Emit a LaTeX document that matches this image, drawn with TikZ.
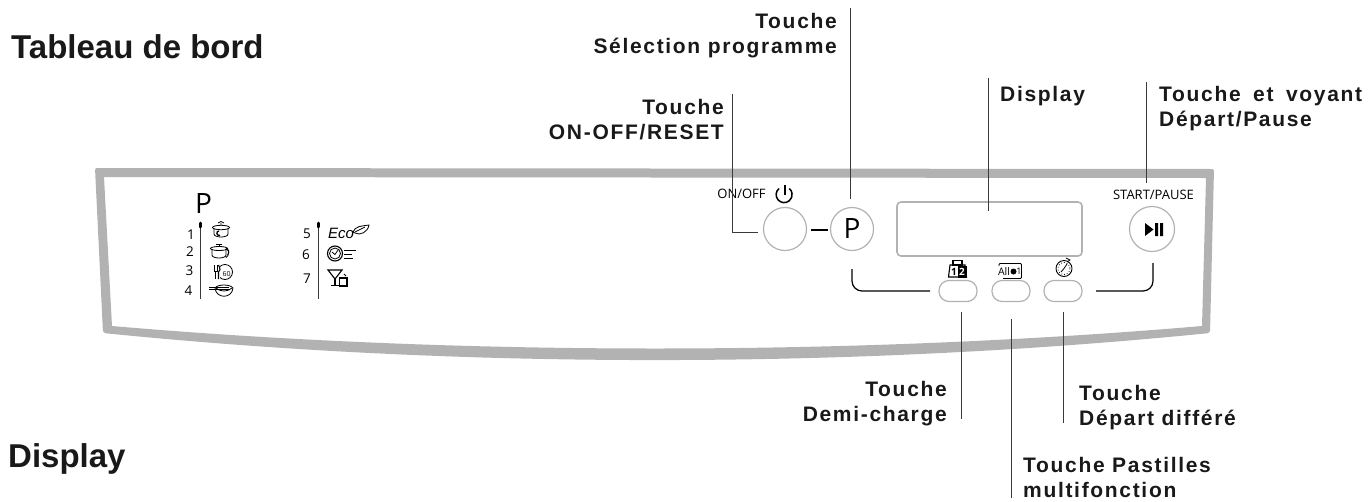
\documentclass[tikz,border=0pt]{standalone}
\usepackage{fontspec}
\setmainfont{Liberation Sans}
\newfontfamily\panelfont{Open Sans}
\newfontfamily\calloutfont[LetterSpace=8]{Liberation Sans Bold}
\usepackage{tikz}
\definecolor{panelgray}{HTML}{B2B2B2}
\definecolor{leadergray}{HTML}{3A3A3A}
\tikzset{
	title/.style={anchor=base west, inner sep=0, font=\bfseries\fontsize{33}{36}\selectfont, text=black!90},
	callout/.style={inner sep=0, font=\calloutfont\fontsize{21}{25.5}\selectfont, text=black!90},
	leader/.style={draw=leadergray, line width=0.9pt},
	button/.style={circle, draw=panelgray, line width=1.2pt, minimum size=43pt, inner sep=0, font=\panelfont\fontsize{28}{30}\selectfont},
	oval/.style={draw=panelgray, line width=1.2pt, rounded corners=10pt, minimum width=38pt, minimum height=21pt, inner sep=0},
	bracket/.style={draw=black, line width=1.2pt, rounded corners=10pt},
	paneltext/.style={inner sep=0, font=\panelfont\fontsize{13}{15}\selectfont},
	number/.style={inner sep=0, font=\panelfont\fontsize{13.5}{15}\selectfont},
	tiny/.style={inner sep=0, font=\panelfont\fontsize{7}{8}\selectfont},
	icon/.style={draw=black, line width=0.8pt},
}
\begin{document}
\begin{tikzpicture}[x=1pt, y=-1pt]
	\useasboundingbox (0,0) rectangle (1368,501);
	% frame of the panel
	\fill [panelgray, even odd rule, rounded corners=2pt] (95,168) -- (1214,169) -- (1210,333) .. controls (850,369) and (460,369) .. (103,333) -- cycle
		[sharp corners] (104,177) -- (1206,178) -- (1202,326) .. controls (850,356) and (460,356) .. (112,326) -- cycle;
	% titles
	\node [title] (tableau) at (11,58) {Tableau de bord};
	\node [title] (displaytitle) at (8,467) {Display};
	% buttons and display
	\node [button] (onoff) at (785,229) {};
	\node [button] (prog) at (852,229) {P};
	\node [button, minimum size=45pt] (start) at (1152,229) {};
	\node [draw=panelgray, line width=1.6pt, rounded corners=4pt, minimum width=185pt, minimum height=54pt, inner sep=0] (screen) at (989.5,229) {};
	\node [oval] (half) at (958,291) {};
	\node [oval] (tabs) at (1011,291) {};
	\node [oval] (delay) at (1063,291) {};
	\coordinate (linka) at (811,230);
	\coordinate (linkb) at (828,230);
	\draw [line width=1.4pt] (linka) -- (linkb);
	\fill (1145,223) -- (1153.5,229.5) -- (1145,236) -- cycle;
	\fill (1155,223) rectangle (1158,236) (1160,223) rectangle (1163,236);
	\node [paneltext] (onofftext) at (741.5,194) {ON/OFF};
	\node [paneltext] (starttext) at (1153.5,194.5) {START/PAUSE};
	% power symbol
	\draw [line width=1.5pt] (779,188.5) arc [start angle=-130, end angle=-410, x radius=8, y radius=8];
	\draw [line width=1.5pt] (785,185) -- (785,195);
	% brackets under the buttons
	\coordinate (brla) at (852,269);
	\coordinate (brlb) at (930,291);
	\coordinate (brra) at (1096,291);
	\coordinate (brrb) at (1153,263);
	\draw [bracket] (brla) |- (brlb);
	\draw [bracket] (brra) -| (brrb);
	% callouts
	\node [callout, align=right, anchor=north east] (selection) at (837,13) {Touche\\Sélection programme};
	\node [callout, align=right, anchor=north east] (resetlabel) at (724,99) {Touche\\ON-OFF/RESET};
	\node [callout, anchor=north west] (displaylabel) at (1000,86) {Display};
	\node [callout, align=left, anchor=north west] (startlabel) at (1159,86) {Touche\hspace{5pt} et\hspace{5pt} voyant\\Départ/Pause};
	\node [callout, align=right, anchor=north east] (halflabel) at (947,381) {Touche\\Demi-charge};
	\node [callout, align=left, anchor=north west] (delaylabel) at (1079,385) {Touche\\Départ différé};
	\node [callout, align=left, anchor=north west] (tabslabel) at (1023,457) {Touche Pastilles\\multifonction};
	% leaders
	\coordinate (selA) at (850,8);
	\coordinate (selB) at (850,199);
	\coordinate (resA) at (732,94);
	\coordinate (resB) at (758,232);
	\coordinate (disA) at (988,78);
	\coordinate (disB) at (988,211);
	\coordinate (staA) at (1146,82);
	\coordinate (staB) at (1146,183);
	\coordinate (halA) at (961,312);
	\coordinate (halB) at (961,419);
	\coordinate (tabA) at (1011,319);
	\coordinate (tabB) at (1011,498);
	\coordinate (delA) at (1063,312);
	\coordinate (delB) at (1063,423);
	\draw [leader] (selA) -- (selB);
	\draw [leader] (resA) |- (resB);
	\draw [leader] (disA) -- (disB);
	\draw [leader] (staA) -- (staB);
	\draw [leader] (halA) -- (halB);
	\draw [leader] (tabA) -- (tabB);
	\draw [leader] (delA) -- (delB);
	% program list
	\node [button, draw=none, minimum size=0pt] (plabel) at (203.5,204) {P};
	\draw [line width=1pt, leadergray] (200,224) -- (200,299);
	\draw [line width=1pt, leadergray] (318,224) -- (318,299);
	\draw [line width=3pt, line cap=round] (200,223) -- (200,227);
	\draw [line width=3pt, line cap=round] (318,223) -- (318,227);
	\foreach \name/\nx/\ny in {1/191/235, 2/190/252, 3/189.5/271, 4/188.5/291, 5/307/234, 6/306/255, 7/307/279}
		\node [number] (num\name) at (\nx,\ny) {\name};
	% icon 1: pot
	\begin{scope}[shift={(221,231)}]
		\draw [icon] (-7,-3) -- (-7,3) .. controls (-7,7) and (7,7) .. (7,3) -- (7,-3);
		\draw [icon] (0,-3.5) ellipse (8.5 and 2.2);
		\draw [icon] (-3,-8) -- (0,-9.5) -- (3,-8) (0,-8) -- (0,-6);
		\draw [line width=1.3pt] (-2,0) .. controls (-5,0) and (-5,5) .. (-1,4.5);
	\end{scope}
	% icon 2: pot and plate
	\begin{scope}[shift={(219,252)}]
		\draw [icon] (-7,-3) -- (-7,3) .. controls (-7,7) and (7,7) .. (7,3) -- (7,-3);
		\draw [icon] (0,-3.5) ellipse (8.5 and 2);
		\draw [icon] (-3,-8) -- (3,-8) (0,-8) -- (0,-6);
		\draw [icon] (7,-4) arc [start angle=-60, end angle=60, radius=5.5];
		\draw [icon] (8.5,-3) arc [start angle=-50, end angle=50, radius=4];
	\end{scope}
	% icon 3: cutlery and plate
	\begin{scope}[shift={(225,272)}]
		\draw [icon] (0,0) circle (7.5);
		\fill [white] (-9,-8) rectangle (-5.5,8);
		\draw [icon] (-11,-7) -- (-11,-1) -- (-8,-1) -- (-8,-7) (-9.5,-1) -- (-9.5,7);
		\draw [icon, line width=1.1pt] (-6.5,-7) .. controls (-4.5,-3) and (-4.5,-1) .. (-6.5,0) -- (-6.5,7);
		\node [tiny] (sixty) at (1.5,1.5) {60};
	\end{scope}
	% icon 4: bowl and whisk
	\begin{scope}[shift={(224,290)}]
		\draw [icon] (-9,-2) .. controls (-8,9) and (8,9) .. (9,-2) .. controls (6,-6) and (-6,-6) .. (-9,-2);
		\draw [icon] (-8,-2) .. controls (-4,2) and (4,2) .. (8,-2);
		\draw [icon] (-15,-3) -- (5,-3) (-15,-1) -- (5,-1);
	\end{scope}
	% Eco and leaf
	\node [inner sep=0, font=\itshape\fontsize{15}{15}\selectfont] (ecotext) at (341,233.5) {Eco};
	\draw [icon] (353,232) .. controls (355,226) and (362,226) .. (369,225) .. controls (368,232) and (360,236) .. (355,233) -- cycle;
	\draw [icon] (355,232) -- (365,227);
	% clock
	\draw [icon, line width=1.1pt] (335,253.5) circle (7.5);
	\draw [icon] (335,253.5) circle (5.5);
	\draw [icon] (332,252) -- (335,254.5) -- (338,250);
	\draw [icon, line width=1pt] (343.5,250) -- (356,250) (344,254) -- (352,254) (344,258.5) -- (353,258.5);
	% glass and cup
	\draw [icon, line width=1.1pt] (328,270) -- (342,270) -- (335,279) -- cycle;
	\draw [icon, line width=1.1pt] (335,279) -- (335,285) (331,285.5) -- (339,285.5);
	\draw [icon, line width=1.1pt, fill=white] (339.5,278) rectangle (347,286);
	\draw [icon] (344,274) -- (346,276);
	% half load icon
	\draw [icon, line width=1.1pt] (950,265) -- (965,265) -- (966.5,277) -- (948.5,277) -- cycle;
	\draw [icon, line width=1.1pt, fill=white] (953,260.5) rectangle (962,265);
	\draw [fill=black] (958.5,266) rectangle (966,277);
	\node [tiny, font=\panelfont\bfseries\fontsize{10}{10}\selectfont] (halfone) at (954,271.5) {1};
	\node [tiny, font=\panelfont\bfseries\fontsize{10}{10}\selectfont, text=white] (halftwo) at (962,271.5) {2};
	% all in one icon
	\draw [icon, rounded corners=1pt] (999,266) -- (999,263.5) -- (1021.5,263.5) -- (1021.5,278.5) -- (1003,278.5);
	\node [tiny, font=\panelfont\fontsize{10.5}{11}\selectfont, fill=white] (allword) at (1004,271.5) {All};
	\fill (1013.5,271.5) circle (3);
	\node [tiny, font=\panelfont\fontsize{9}{10}\selectfont] (allone) at (1019,271.5) {1};
	% timer icon
	\draw [icon, line width=0.9pt] (1064,268.5) circle (8);
	\draw [icon, dotted] (1064,268.5) circle (6);
	\draw [icon] (1064,268.5) -- (1067,264) (1064,268.5) -- (1061,272);
	\draw [icon] (1066,258) -- (1070,260) -- (1067,262);
\end{tikzpicture}
\end{document}
